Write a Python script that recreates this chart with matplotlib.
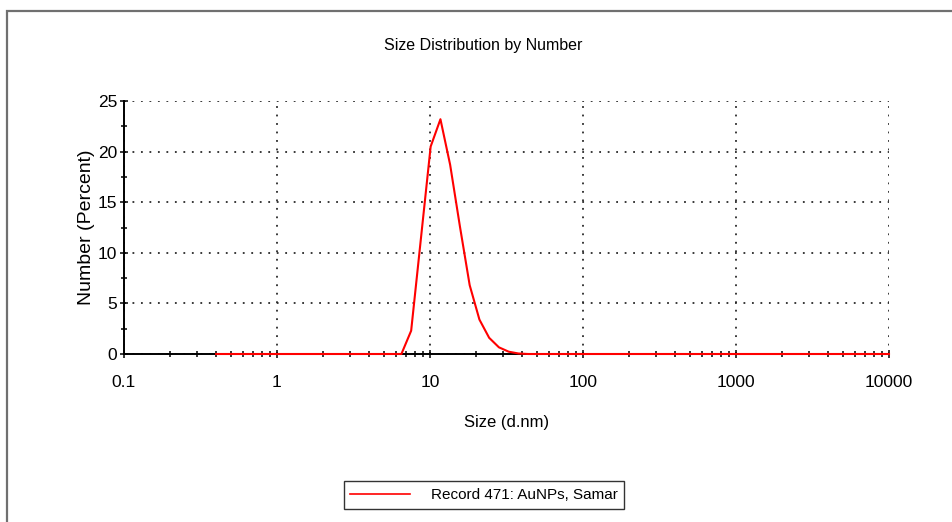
import numpy as np
import matplotlib
matplotlib.use("Agg")
import matplotlib.pyplot as plt
from matplotlib.ticker import LogLocator, FixedLocator, NullFormatter, FuncFormatter
from matplotlib.patches import Rectangle

plt.rcParams['font.family'] = ['Liberation Sans', 'DejaVu Sans']

# datos
size_nm = [0.4, 5.615, 6.503, 7.531, 8.721, 10.10, 11.70, 13.54, 15.69, 18.17,
           21.04, 24.36, 28.21, 32.67, 37.84, 43.82, 10000]
number_pct = [0, 0, 0, 2.3, 11.4, 20.5, 23.2, 18.7, 12.6, 6.8,
              3.4, 1.6, 0.66, 0.23, 0.05, 0, 0]
record_label = "Record 471: AuNPs, Samar"
x_ticks = [0.1, 1, 10, 100, 1000, 10000]
x_ticklabels = ["0.1", "1", "10", "100", "1000", "10000"]
y_ticks = [0, 5, 10, 15, 20, 25]

fig = plt.figure(figsize=(9.53, 5.22), dpi=100)
W, H = 953, 522
ax = fig.add_axes([124 / W, (H - 354) / H, (889 - 124) / W, (354 - 101) / H])

ax.plot(size_nm, number_pct, color='#ff0000', lw=1.5, label=record_label, zorder=5, clip_on=False)

ax.set_xscale('log')
ax.set_xlim(0.1, 10000)
ax.set_ylim(0, 25)
ax.xaxis.set_major_locator(FixedLocator(x_ticks))
ax.xaxis.set_major_formatter(FuncFormatter(lambda v, p: x_ticklabels[x_ticks.index(v)] if v in x_ticks else ""))
ax.xaxis.set_minor_locator(LogLocator(base=10, subs=np.arange(2, 10), numticks=20))
ax.xaxis.set_minor_formatter(NullFormatter())
ax.yaxis.set_major_locator(FixedLocator(y_ticks))
ax.yaxis.set_minor_locator(FixedLocator([2.5, 7.5, 12.5, 17.5, 22.5]))

ax.tick_params(axis='both', which='major', direction='inout', length=6, width=1.1,
               labelsize=12.5, color='black')
ax.tick_params(axis='x', which='major', pad=12)
ax.tick_params(axis='y', which='major', pad=2)
ax.tick_params(axis='x', which='minor', direction='inout', length=4, width=1.1, color='black')
ax.tick_params(axis='y', which='minor', direction='inout', length=5, width=1.1, color='black')

for s in ['top', 'right']:
    ax.spines[s].set_visible(False)
for s in ['left', 'bottom']:
    ax.spines[s].set_linewidth(1.4)
    ax.spines[s].set_color('black')

ax.grid(True, which='major', color='#2a2a2a', linestyle=(0, (1, 3.7)), linewidth=1.3)
ax.set_axisbelow(True)

ax.set_xlabel("Size (d.nm)", fontsize=12, labelpad=18)
ax.set_ylabel("Number (Percent)", fontsize=14, labelpad=2)

fig.text(483 / W, 1 - 45 / H, "Size Distribution by Number", fontsize=11.5,
         ha='center', va='center')

leg = fig.legend(loc='center', bbox_to_anchor=(484 / W, 1 - 495 / H), fontsize=11,
                 frameon=True, fancybox=False, edgecolor='black', handlelength=3.9,
                 handletextpad=1.35, borderpad=0.45, borderaxespad=0)
leg.get_frame().set_linewidth(1.0)
leg.get_lines()[0].set_linewidth(1.2)

# marco gris exterior
fig.add_artist(Rectangle((7 / W, -0.05), 1.1, 1.05 - 11 / H, transform=fig.transFigure,
                         fill=False, edgecolor='#707070', linewidth=1.6))

fig.savefig("out.png", dpi=100)
